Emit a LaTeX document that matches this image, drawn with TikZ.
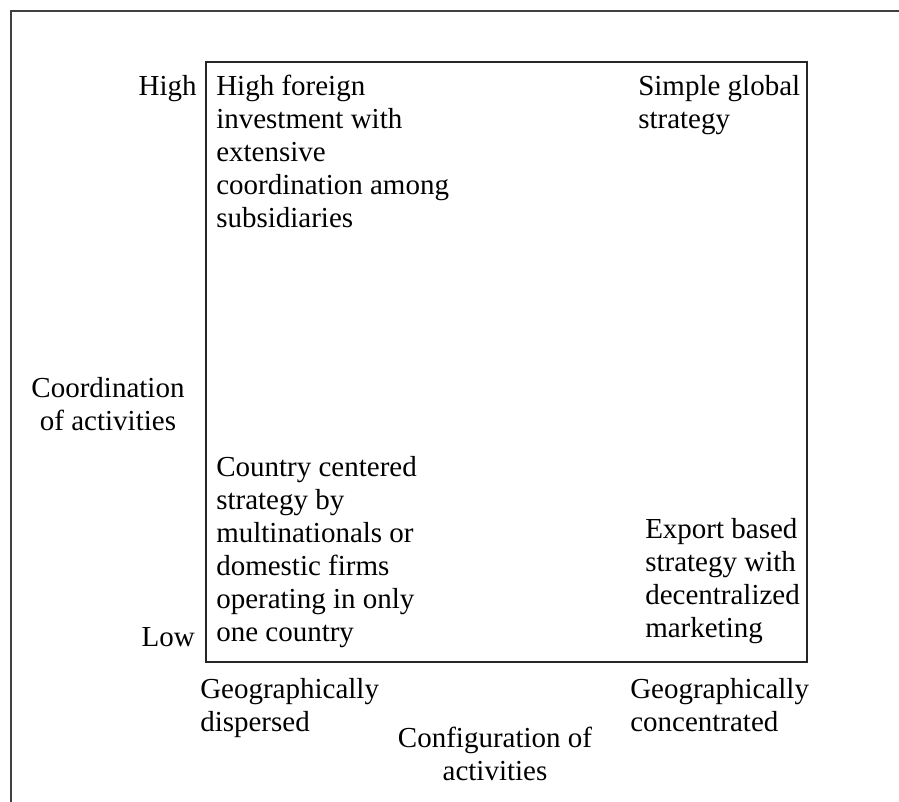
\documentclass[tikz,border=0pt]{standalone}
\usepackage{fontspec}
\setmainfont{Liberation Serif}
\begin{document}
\begin{tikzpicture}[x=0.75pt,y=-0.75pt,
  lbl/.style={inner sep=0pt, font=\fontsize{21.75}{24.75}\selectfont, align=left},
  ctr/.style={inner sep=0pt, font=\fontsize{21.75}{24.75}\selectfont, align=center},
  rgt/.style={inner sep=0pt, font=\fontsize{21.75}{24.75}\selectfont, align=right},
  frameline/.style={draw=black!75, line width=1.5pt},
  quadbox/.style={draw=black!85, line width=1.2pt}]
\useasboundingbox (0,0) rectangle (899,801);
\coordinate (fr1) at (905,11);
\coordinate (fr2) at (11,11);
\coordinate (fr3) at (11,807);
\draw[frameline] (fr1) -- (fr2) -- (fr3);
\node[inner sep=0pt, minimum width=601*0.75pt, minimum height=600*0.75pt, anchor=north west, quadbox] (quad) at (205,61) {};
% base anchor of a multi-line node = baseline of its last line (33px line pitch)
\node[lbl, anchor=base west] (hf) at (216,227) {High foreign\\investment with\\extensive\\coordination among\\subsidiaries};
\node[lbl, anchor=base west] (sg) at (638,128) {Simple global\\strategy};
\node[lbl, anchor=base west] (cc) at (216,641) {Country centered\\strategy by\\multinationals or\\domestic firms\\operating in only\\one country};
\node[lbl, anchor=base west] (eb) at (645,637) {Export based\\strategy with\\decentralized\\marketing};
\node[rgt, anchor=base east] (hi) at (197,95) {High};
\node[rgt, anchor=base east] (lo) at (195,646) {Low};
\node[ctr, anchor=base] (ca) at (108,430) {Coordination\\of activities};
\node[lbl, anchor=base west] (gd) at (200,731) {Geographically\\dispersed};
\node[lbl, anchor=base west] (gc) at (630,731) {Geographically\\concentrated};
\node[ctr, anchor=base] (cf) at (495,780) {Configuration of\\activities};
\end{tikzpicture}
\end{document}
